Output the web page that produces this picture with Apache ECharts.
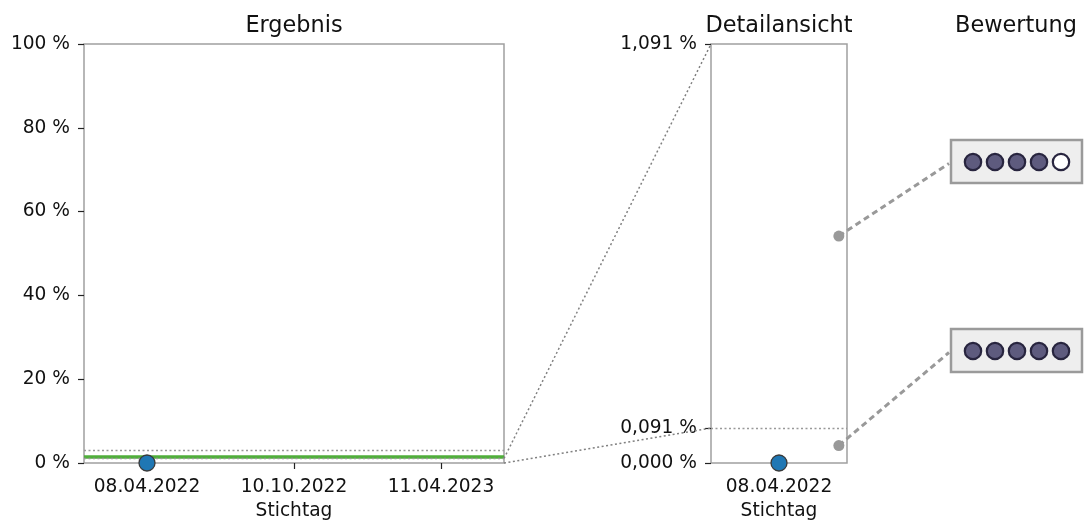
<!DOCTYPE html>
<html><head><meta charset="utf-8">
<script src="https://cdn.jsdelivr.net/npm/echarts@6/dist/echarts.min.js"></script>
<style>html,body{margin:0;padding:0;background:#fff}#c{width:1085px;height:522px}</style>
</head><body><div id="c"></div>
<script>
// ---- data ----
const dateTicks = ['08.04.2022', '10.10.2022', '11.04.2023'];
const resultDates = ['08.04.2022'];
const resultValues = [0];              // %
const yTicksMain = [0, 20, 40, 60, 80, 100];
const greenLineValue = 1.6;            // %
const dottedMain = [1.091, 3.1];       // %
const detailTicks = [0, 0.091, 1.091]; // %
const ratingRanges = [[0.091, 1.091], [0, 0.091]];
const ratingScores = [4, 5];
const ratingMax = 5;

// ---- layout / style ----
const FONT = 'DejaVu Sans';
const FS = 18.6;
const G1 = {left: 84, top: 44, width: 420, height: 419};
const G2 = {left: 711, top: 44, width: 136, height: 419};
const frame = '#a0a0a0';
const xMin1 = -0.4286, xMax1 = 2.4286;
const boxes = [{x: 951, y: 140, w: 131, h: 43}, {x: 951, y: 329, w: 131, h: 43}];

const chart = echarts.init(document.getElementById('c'), null, {renderer: 'canvas'});
const fmtPct = v => v.toFixed(3).replace('.', ',') + ' %';
const idx = d => dateTicks.indexOf(d);

const axisCommon = {
  axisLine: {show: false, onZero: false},
  splitLine: {show: false},
  axisTick: {show: true, length: 6, lineStyle: {color: '#222', width: 1.2}},
  axisLabel: {color: '#111', fontFamily: FONT, fontSize: FS}
};

const gridCommon = {show: true, borderColor: frame, borderWidth: 1.5, backgroundColor: 'transparent',
  containLabel: false, outerBoundsMode: 'none'};
const titleStyle = {fontFamily: FONT, fontSize: 22.4, fontWeight: 'normal', color: '#111'};
const option = {
  animation: false,
  textStyle: {fontFamily: FONT},
  title: [
    {text: 'Ergebnis', left: G1.left + G1.width / 2 - 5, top: 10, textAlign: 'center', textStyle: titleStyle},
    {text: 'Detailansicht', left: G2.left + G2.width / 2 - 5, top: 10, textAlign: 'center', textStyle: titleStyle},
    {text: 'Bewertung', left: 1011, top: 10, textAlign: 'center', textStyle: titleStyle}
  ],
  grid: [Object.assign({}, gridCommon, G1), Object.assign({}, gridCommon, G2)],
  xAxis: [
    Object.assign({}, axisCommon, {
      gridIndex: 0, type: 'value', min: xMin1, max: xMax1,
      name: 'Stichtag', nameLocation: 'middle', nameGap: 37,
      nameTextStyle: {fontFamily: FONT, fontSize: FS, color: '#111'},
      axisTick: Object.assign({}, axisCommon.axisTick, {customValues: dateTicks.map((d, i) => i)}),
      axisLabel: Object.assign({}, axisCommon.axisLabel, {margin: 15, customValues: dateTicks.map((d, i) => i),
        formatter: v => dateTicks[Math.round(v)]})
    }),
    Object.assign({}, axisCommon, {
      gridIndex: 1, type: 'value', min: -0.5, max: 0.5,
      name: 'Stichtag', nameLocation: 'middle', nameGap: 37,
      nameTextStyle: {fontFamily: FONT, fontSize: FS, color: '#111'},
      axisTick: Object.assign({}, axisCommon.axisTick, {customValues: [0]}),
      axisLabel: Object.assign({}, axisCommon.axisLabel, {margin: 15, customValues: [0],
        formatter: () => resultDates[0]})
    })
  ],
  yAxis: [
    Object.assign({}, axisCommon, {
      gridIndex: 0, type: 'value', min: 0, max: 100,
      axisTick: Object.assign({}, axisCommon.axisTick, {customValues: yTicksMain}),
      axisLabel: Object.assign({}, axisCommon.axisLabel, {margin: 14, customValues: yTicksMain,
        formatter: v => v + ' %'})
    }),
    Object.assign({}, axisCommon, {
      gridIndex: 1, type: 'value', min: detailTicks[0], max: detailTicks[detailTicks.length - 1],
      axisTick: Object.assign({}, axisCommon.axisTick, {customValues: detailTicks}),
      axisLabel: Object.assign({}, axisCommon.axisLabel, {margin: 14, customValues: detailTicks,
        formatter: v => fmtPct(v)})
    })
  ],
  series: [
    {
      type: 'line', xAxisIndex: 0, yAxisIndex: 0, data: [], silent: true,
      markLine: {
        symbol: 'none', silent: true, label: {show: false},
        data: [
          {yAxis: greenLineValue, lineStyle: {color: '#4fae3a', width: 3.5, type: 'solid'}},
          ...dottedMain.map(v => ({yAxis: v, lineStyle: {color: '#999', width: 1.3, type: [2, 2.5]}}))
        ]
      }
    },
    {
      type: 'line', xAxisIndex: 1, yAxisIndex: 1, data: [], silent: true,
      markLine: {
        symbol: 'none', silent: true, label: {show: false},
        data: [{yAxis: detailTicks[1], lineStyle: {color: '#999', width: 1.3, type: [2, 2.5]}}]
      }
    },
    {
      type: 'scatter', xAxisIndex: 0, yAxisIndex: 0, clip: false, z: 10,
      symbolSize: 16,
      itemStyle: {color: '#1f77b4', borderColor: '#3a3a3a', borderWidth: 1.3, opacity: 1},
      data: resultDates.map((d, i) => [idx(d), resultValues[i]])
    },
    {
      type: 'scatter', xAxisIndex: 1, yAxisIndex: 1, clip: false, z: 10,
      symbolSize: 16,
      itemStyle: {color: '#1f77b4', borderColor: '#3a3a3a', borderWidth: 1.3, opacity: 1},
      data: resultDates.map((d, i) => [0, resultValues[i]])
    },
    {
      type: 'scatter', xAxisIndex: 1, yAxisIndex: 1, clip: false, z: 8,
      symbolSize: 11,
      itemStyle: {color: '#999', opacity: 1},
      data: ratingRanges.map(r => [0.44, (r[0] + r[1]) / 2])
    }
  ]
};
chart.setOption(option);

// connectors and rating boxes
const graphics = [];
const p = (g, pt) => chart.convertToPixel({gridIndex: g}, pt);
const a1 = p(0, [xMax1, detailTicks[2]]), b1 = p(1, [-0.5, detailTicks[2]]);
const a2 = p(0, [xMax1, detailTicks[0]]), b2 = p(1, [-0.5, detailTicks[1]]);
[[a1, b1], [a2, b2]].forEach(([a, b]) => graphics.push({
  type: 'line', z: 5, shape: {x1: a[0], y1: a[1], x2: b[0], y2: b[1]},
  style: {stroke: '#808080', lineWidth: 1.5, lineDash: [2, 2.5]}
}));
ratingRanges.forEach((r, i) => {
  const d = p(1, [0.44, (r[0] + r[1]) / 2]);
  const bx = boxes[i];
  graphics.push({type: 'line', z: 4, shape: {x1: d[0], y1: d[1], x2: bx.x - 2, y2: bx.y + bx.h / 2 + 2},
    style: {stroke: '#999', lineWidth: 3, lineDash: [6, 4]}});
  graphics.push({type: 'rect', z: 4, shape: {x: bx.x, y: bx.y, width: bx.w, height: bx.h},
    style: {fill: '#eeeeee', stroke: '#9a9a9a', lineWidth: 2.5}});
  for (let k = 0; k < ratingMax; k++) {
    graphics.push({type: 'circle', z: 6,
      shape: {cx: bx.x + 22 + k * 22, cy: bx.y + bx.h / 2 + 0.5, r: 8.2},
      style: {fill: k < ratingScores[i] ? '#5e5b7e' : '#ffffff', stroke: '#28253f', lineWidth: 2.2}});
  }
});
chart.setOption({graphic: graphics});
</script>
</body></html>
